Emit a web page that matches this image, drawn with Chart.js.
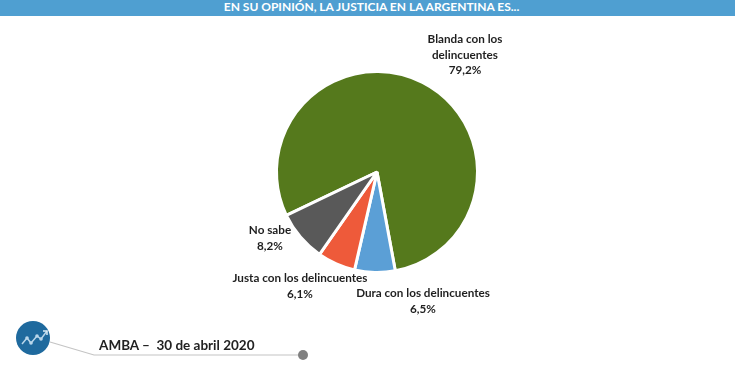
<!DOCTYPE html>
<html>
<head>
<meta charset="utf-8">
<script src="https://cdn.jsdelivr.net/npm/chart.js@4"></script>
<style>
  html, body { margin: 0; padding: 0; background: #fff; }
  #wrap { position: relative; width: 735px; height: 369px; overflow: hidden; font-family: Lato, sans-serif; color: #1f1f1f; }
  #chart { position: absolute; left: 0; top: 0; }
  #header { position: absolute; left: 0; top: 0; width: 735px; height: 16px; line-height: 13px; background: #4f9fd1; color: #fff; font-size: 12px; font-weight: 700; text-align: center; padding-left: 8px; box-sizing: border-box; white-space: nowrap; }
  .lbl { position: absolute; transform: translateX(-50%); text-align: center; font-size: 11.7px; font-weight: 700; line-height: 15.5px; white-space: nowrap; }
  #footer { position: absolute; left: 99px; top: 337px; font-size: 13.5px; font-weight: 700; color: #222; white-space: pre; }
  #deco { position: absolute; left: 0; top: 0; }
</style>
</head>
<body>
<div id="wrap">
  <canvas id="chart" width="735" height="369"></canvas>
  <div id="header">EN SU OPINIÓN, LA JUSTICIA EN LA ARGENTINA ES...</div>
  <svg id="deco" width="735" height="369">
    <polyline points="50,342 94,355 303,355" fill="none" stroke="#c4c4c4" stroke-width="1.2"/>
    <circle cx="303" cy="355" r="5" fill="#808080"/>
    <circle cx="33" cy="338" r="17" fill="#1f6a9e"/>
    <polyline points="22,344 27,338 31,343 37,336 41,339 47,331" fill="none" stroke="#b9d6ea" stroke-width="1.5"/>
    <polyline points="43,331 47,331 47,335" fill="none" stroke="#dcebf5" stroke-width="1.5"/>
    <circle cx="27" cy="338" r="1.8" fill="#b9d6ea"/>
    <circle cx="31" cy="343" r="1.8" fill="#b9d6ea"/>
    <circle cx="37" cy="336" r="1.8" fill="#b9d6ea"/>
    <circle cx="41" cy="339" r="1.8" fill="#b9d6ea"/>
  </svg>
  <div id="footer">AMBA –  30 de abril 2020</div>
</div>
<script>
const categories = ['Blanda con los delincuentes', 'Dura con los delincuentes', 'Justa con los delincuentes', 'No sabe'];
const values = [79.2, 6.5, 6.1, 8.2];
const sliceColors = ['#55791c', '#5b9fd6', '#ee5a3a', '#595959'];
// label text lines, centred on x, first line top at y
const labelLines = [
  ['Blanda con los', 'delincuentes', '79,2%'],
  ['Dura con los delincuentes', '6,5%'],
  ['Justa con los delincuentes', '6,1%'],
  ['No sabe', '8,2%']
];
const labelSpots = [[465, 31], [423, 285], [300, 270], [270, 222]];

new Chart(document.getElementById('chart'), {
  type: 'pie',
  data: {
    labels: categories,
    datasets: [{
      data: values,
      backgroundColor: sliceColors,
      borderColor: '#fff',
      borderWidth: 3
    }]
  },
  options: {
    responsive: false,
    animation: false,
    rotation: 244.4,
    layout: { padding: { left: 275, top: 70, right: 256, bottom: 95 } },
    plugins: { legend: { display: false }, tooltip: { enabled: false } }
  }
});

labelLines.forEach((lines, i) => {
  const d = document.createElement('div');
  d.className = 'lbl';
  d.style.left = labelSpots[i][0] + 'px';
  d.style.top = labelSpots[i][1] + 'px';
  d.innerHTML = lines.join('<br>');
  document.getElementById('wrap').appendChild(d);
});
</script>
</body>
</html>
